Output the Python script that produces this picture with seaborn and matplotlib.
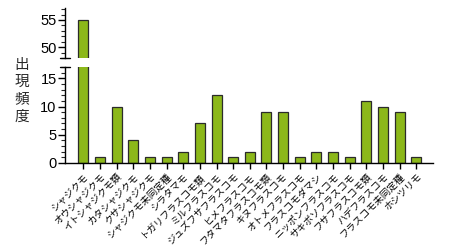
import matplotlib
matplotlib.use("Agg")
import matplotlib.pyplot as plt
import seaborn as sns
import pandas as pd
from matplotlib.ticker import MultipleLocator

categories = ["シャジクモ", "オウシャジクモ", "イトシャジクモ類", "カタシャジクモ", "クサシャジクモ",
              "シャジクモ未同定種", "シラタマモ", "トガリフラスコモ類", "ミルフラスコモ", "ジュズフサフラスコモ",
              "ヒメフラスコモ", "フタマタフラスコモ類", "キヌフラスコモ", "オトメフラスコモ", "フラスコモダマシ",
              "ニッポンフラスコモ", "サキボソフラスコモ", "フサフラスコモ類", "ハデフラスコモ", "フラスコモ未同定種",
              "ホシツリモ"]
values = [55, 1, 10, 4, 1, 1, 2, 7, 12, 1, 2, 9, 9, 1, 2, 2, 1, 11, 10, 9, 1]
ylabel_text = "出現頻度"

sns.set_theme(style="white")
plt.rcParams["font.family"] = ["Liberation Sans", "Noto Sans CJK JP", "DejaVu Sans"]

df = pd.DataFrame({"cat": categories, "val": values})

fig = plt.figure(figsize=(4.5, 2.47), dpi=100)
L, R = 65 / 450, 433 / 450
ax_top = fig.add_axes([L, 1 - 58 / 247, R - L, 50 / 247])
ax_bot = fig.add_axes([L, 1 - 163 / 247, R - L, 96 / 247])

bar_color = "#8cb81a"
for ax in (ax_top, ax_bot):
    sns.barplot(data=df, x="cat", y="val", ax=ax, color=bar_color, width=0.6,
                edgecolor="#2b2b2b", linewidth=0.9, saturation=1)
    ax.set_xlim(-1.1, 21.0)
    ax.set_xlabel("")
    ax.set_ylabel("")
    for s in ("top", "right"):
        ax.spines[s].set_visible(False)
    ax.spines["left"].set_color("black")
    ax.spines["left"].set_linewidth(1.0)
    ax.yaxis.set_minor_locator(MultipleLocator(1))
    ax.yaxis.set_major_locator(MultipleLocator(5))
    ax.tick_params(axis="y", which="major", direction="out", length=5, width=1, left=True,
                   labelsize=10.5, pad=1, colors="black")
    ax.tick_params(axis="y", which="minor", direction="out", length=3, width=0.8, left=True)

ax_top.set_ylim(48, 57.2)
ax_bot.set_ylim(0, 17)
ax_top.spines["bottom"].set_visible(False)
ax_top.tick_params(axis="x", bottom=False, labelbottom=False)

ax_bot.spines["bottom"].set_color("black")
ax_bot.spines["bottom"].set_linewidth(1.0)
ax_bot.tick_params(axis="x", bottom=True, direction="out", length=4, width=1, pad=2, colors="black")
ax_bot.set_xticks(range(len(categories)))
ax_bot.set_xticklabels(categories, rotation=45, ha="right", va="top",
                       rotation_mode="anchor", fontsize=6.9)

# break marks
for ax, yy in ((ax_top, 0.0), (ax_bot, 1.0)):
    ax.plot([-0.013, 0.013], [yy, yy], transform=ax.transAxes, color="black",
            lw=1.0, clip_on=False)

fig.text(0.049, 0.632, "\n".join(ylabel_text), ha="center", va="center",
         fontsize=10.5, linespacing=1.3, family=["Noto Sans CJK JP"])

fig.savefig("out.png", dpi=100, facecolor="white")
